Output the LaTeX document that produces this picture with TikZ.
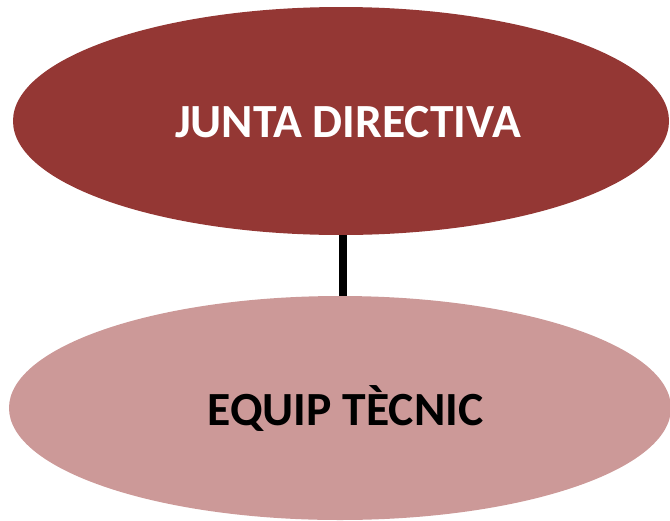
\documentclass[tikz,border=0pt]{standalone}
\usepackage{fontspec}
\setmainfont{Carlito}
\usetikzlibrary{shapes.geometric}
\definecolor{topred}{RGB}{148,55,52}
\definecolor{lowpink}{RGB}{204,153,152}
\begin{document}
\begin{tikzpicture}[x=1pt,y=-1pt,
  oval/.style={ellipse, draw=none, inner sep=0pt},
  lbl/.style={font=\fontsize{47.6}{52}\selectfont\bfseries, inner sep=0pt, anchor=base}]
\useasboundingbox (0,0) rectangle (670,520);
\clip (0,0) rectangle (670,520);
\node[oval, fill=topred, minimum width=656pt, minimum height=228pt] (top) at (341,121) {};
\node[oval, fill=lowpink, minimum width=662pt, minimum height=224pt] (bottom) at (340,408) {};
\coordinate (ta) at (343,235);
\coordinate (tb) at (343,296);
\draw[line width=8pt] (ta) -- (tb);
\node[lbl, text=white] (toptext) at (348,137) {JUNTA DIRECTIVA};
\node[lbl, text=black] (bottext) at (345.5,425) {EQUIP TÈCNIC};
\end{tikzpicture}
\end{document}
